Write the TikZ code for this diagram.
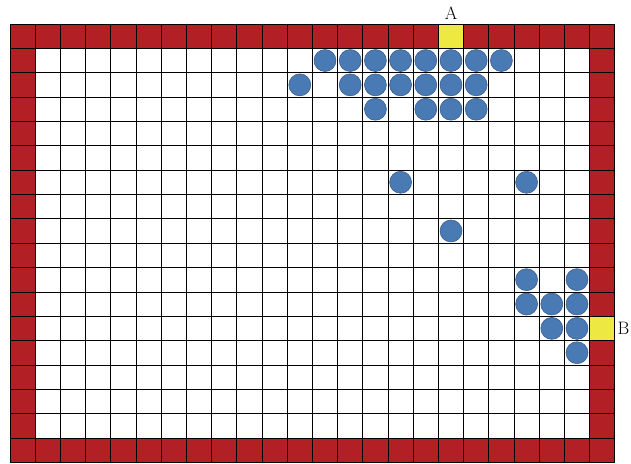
\documentclass[tikz,border=0pt]{standalone}
\usepackage{tikz}
\usetikzlibrary{positioning}

\definecolor{wallred}{RGB}{178,31,36}
\definecolor{exityellow}{RGB}{238,232,66}
\definecolor{agentblue}{RGB}{74,122,180}
\definecolor{agentedge}{RGB}{52,88,135}

\begin{document}
\begin{tikzpicture}[
    x=25.2pt, y=-24.35pt,
    exitcell/.style={fill=exityellow, minimum width=25.2pt, minimum height=24.35pt, inner sep=0pt},
    agent/.style={circle, fill=agentblue, draw=agentedge, line width=0.5pt, minimum size=22pt, inner sep=0pt},
    lbl/.style={font=\fontsize{18}{21}\selectfont, inner sep=1pt}
]
\useasboundingbox (-0.397,-0.986) rectangle (24.643,18.03);
% walls and floor
\fill[wallred] (0,0) rectangle (24,18);
\fill[white] (1,1) rectangle (23,17);
% exits
\node[exitcell] (exitA) at (17.5,0.5) {};
\node[exitcell] (exitB) at (23.5,12.5) {};
% grid lines
\foreach \i in {0,...,24}
    \draw[line width=0.7pt] (\i,0) -- (\i,18);
\foreach \j in {0,...,18}
    \draw[line width=0.7pt] (0,\j) -- (24,\j);
% pedestrians (column/row)
\foreach \c/\r in {12/1,13/1,14/1,15/1,16/1,17/1,18/1,19/1,
                   11/2,13/2,14/2,15/2,16/2,17/2,18/2,
                   14/3,16/3,17/3,18/3,
                   15/6,20/6,17/8,
                   20/10,22/10,20/11,21/11,22/11,21/12,22/12,22/13}
    \node[agent] (p-\c-\r) at (\c+0.5,\r+0.5) {};
% labels
\node[lbl, above=3pt of exitA] (labelA) {A};
\node[lbl, right=1.5pt of exitB] (labelB) {B};
\end{tikzpicture}
\end{document}
